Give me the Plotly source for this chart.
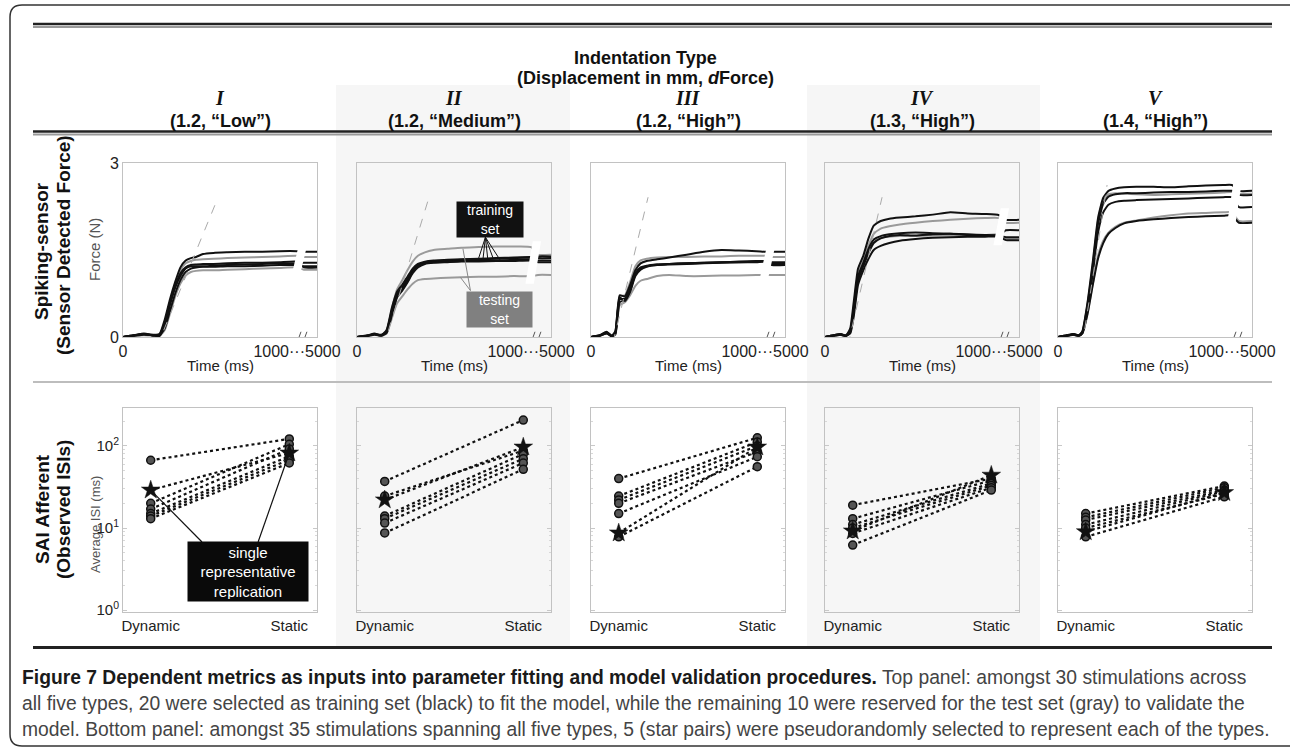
import plotly.graph_objects as go

W, H = 1290, 752

# ---------------- header / labels ----------------
NUMERALS = ["I", "II", "III", "IV", "V"]
PARAMS = ["(1.2, “Low”)", "(1.2, “Medium”)", "(1.2, “High”)", "(1.3, “High”)", "(1.4, “High”)"]
X_TICKVALS_TOP = [0, 1000]
X_TICKTEXT_TOP = ["0", "1000···5000"]
Y_TICKVALS_TOP = [0, 3]
Y_TICKTEXT_TOP = ["0", "3"]
X_TICKTEXT_BOT = ["Dynamic", "Static"]
Y_TICKVALS_BOT = [1, 10, 100]
Y_TICKTEXT_BOT = ["10<sup>0</sup>", "10<sup>1</sup>", "10<sup>2</sup>"]

# ---------------- top panels: force traces (N) ----------------
# time in ms; the last two entries lie after the axis break (the ~5000 ms segment)
T_I = [0, 60, 120, 180, 210, 240, 270, 300, 330, 360, 390, 420, 460, 520, 600, 700, 800, 900, 1000, 1040, 1115]
I_black_1 = [0, 0.03, 0.05, 0.03, 0.05, 0.30, 0.65, 0.95, 1.20, 1.32, 1.36, 1.38, 1.43, 1.45, 1.46, 1.47, 1.47, 1.48, 1.48, 1.47, 1.47]
I_black_2 = [0, 0.02, 0.06, 0.02, 0.02, 0.20, 0.55, 0.85, 1.05, 1.18, 1.22, 1.22, 1.22, 1.23, 1.24, 1.25, 1.26, 1.27, 1.27, 1.28, 1.28]
I_black_3 = [0, 0.02, 0.04, 0.03, 0.03, 0.15, 0.45, 0.75, 0.98, 1.12, 1.18, 1.20, 1.21, 1.21, 1.22, 1.22, 1.23, 1.24, 1.24, 1.22, 1.22]
I_black_4 = [0, 0.03, 0.05, 0.04, 0.04, 0.25, 0.60, 0.88, 1.10, 1.20, 1.24, 1.25, 1.26, 1.26, 1.27, 1.28, 1.28, 1.29, 1.30, 1.20, 1.20]
I_gray_1 = [0, 0.02, 0.04, 0.03, 0.05, 0.25, 0.60, 0.92, 1.15, 1.27, 1.31, 1.33, 1.34, 1.35, 1.36, 1.37, 1.38, 1.39, 1.40, 1.38, 1.38]
I_gray_2 = [0, 0.02, 0.03, 0.02, 0.02, 0.12, 0.40, 0.70, 0.92, 1.06, 1.12, 1.14, 1.15, 1.15, 1.16, 1.17, 1.18, 1.19, 1.20, 1.16, 1.16]

T_II = [0, 60, 100, 140, 170, 200, 230, 260, 290, 320, 350, 390, 440, 520, 600, 700, 800, 900, 1000, 1040, 1115]
II_black_1 = [0, 0.02, 0.06, 0.03, 0.10, 0.45, 0.74, 0.86, 1.00, 1.15, 1.24, 1.29, 1.31, 1.32, 1.33, 1.34, 1.35, 1.36, 1.37, 1.36, 1.36]
II_black_2 = [0, 0.03, 0.05, 0.04, 0.08, 0.40, 0.70, 0.82, 0.96, 1.12, 1.22, 1.27, 1.29, 1.30, 1.31, 1.32, 1.32, 1.33, 1.34, 1.32, 1.32]
II_black_3 = [0, 0.02, 0.04, 0.03, 0.12, 0.50, 0.78, 0.90, 1.04, 1.18, 1.26, 1.30, 1.32, 1.33, 1.34, 1.35, 1.36, 1.37, 1.38, 1.39, 1.39]
II_black_4 = [0, 0.02, 0.05, 0.02, 0.07, 0.38, 0.68, 0.80, 0.94, 1.10, 1.20, 1.26, 1.28, 1.29, 1.30, 1.30, 1.31, 1.31, 1.32, 1.29, 1.29]
II_gray_1 = [0, 0.02, 0.05, 0.03, 0.10, 0.48, 0.82, 0.98, 1.15, 1.30, 1.40, 1.46, 1.50, 1.52, 1.54, 1.55, 1.56, 1.56, 1.55, 1.42, 1.42]
II_gray_2 = [0, 0.02, 0.04, 0.02, 0.06, 0.32, 0.58, 0.70, 0.82, 0.92, 0.98, 1.00, 1.01, 1.02, 1.03, 1.04, 1.04, 1.05, 1.05, 1.07, 1.07]

T_III = [0, 50, 90, 120, 140, 165, 195, 225, 255, 285, 320, 380, 450, 550, 650, 750, 850, 950, 1000, 1040, 1115]
III_black_1 = [0, 0.03, 0.08, 0.02, 0.10, 0.72, 0.70, 0.90, 1.15, 1.27, 1.31, 1.34, 1.37, 1.42, 1.47, 1.50, 1.49, 1.48, 1.47, 1.47, 1.47]
III_black_2 = [0, 0.02, 0.07, 0.01, 0.06, 0.65, 0.66, 0.80, 1.08, 1.18, 1.22, 1.25, 1.26, 1.27, 1.28, 1.29, 1.30, 1.31, 1.31, 1.29, 1.29]
III_black_3 = [0, 0.03, 0.09, 0.02, 0.08, 0.68, 0.62, 0.78, 1.05, 1.16, 1.21, 1.24, 1.25, 1.26, 1.27, 1.28, 1.29, 1.29, 1.30, 1.26, 1.26]
III_black_4 = [0, 0.02, 0.06, 0.01, 0.05, 0.60, 0.64, 0.84, 1.10, 1.20, 1.23, 1.25, 1.26, 1.27, 1.28, 1.29, 1.29, 1.30, 1.30, 1.24, 1.24]
III_gray_1 = [0, 0.02, 0.07, 0.02, 0.09, 0.70, 0.72, 0.95, 1.22, 1.32, 1.35, 1.37, 1.38, 1.38, 1.39, 1.39, 1.40, 1.40, 1.40, 1.38, 1.38]
III_gray_2 = [0, 0.02, 0.06, 0.01, 0.04, 0.55, 0.60, 0.72, 0.88, 0.97, 1.00, 1.05, 1.07, 1.05, 1.05, 1.06, 1.06, 1.07, 1.07, 1.07, 1.07]

T_IV = [0, 50, 90, 120, 145, 165, 190, 220, 250, 280, 320, 370, 430, 520, 620, 720, 820, 920, 1000, 1040, 1115]
IV_black_1 = [0, 0.03, 0.04, 0.02, 0.15, 0.60, 1.18, 1.40, 1.70, 1.92, 2.00, 2.04, 2.06, 2.08, 2.11, 2.15, 2.13, 2.12, 2.10, 2.02, 2.02]
IV_black_2 = [0, 0.03, 0.05, 0.03, 0.10, 0.48, 1.05, 1.28, 1.52, 1.68, 1.74, 1.77, 1.79, 1.80, 1.79, 1.78, 1.77, 1.76, 1.76, 1.84, 1.84]
IV_black_3 = [0, 0.02, 0.04, 0.02, 0.08, 0.42, 0.98, 1.22, 1.45, 1.62, 1.70, 1.74, 1.76, 1.75, 1.77, 1.78, 1.76, 1.75, 1.75, 1.72, 1.72]
IV_black_4 = [0, 0.03, 0.05, 0.02, 0.06, 0.35, 0.90, 1.15, 1.35, 1.50, 1.57, 1.62, 1.66, 1.69, 1.71, 1.72, 1.73, 1.73, 1.73, 1.67, 1.67]
IV_gray_1 = [0, 0.02, 0.04, 0.02, 0.12, 0.52, 1.10, 1.32, 1.58, 1.78, 1.87, 1.91, 1.94, 1.97, 2.00, 2.02, 2.04, 2.05, 2.05, 1.97, 1.97]
IV_gray_2 = [0, 0.02, 0.04, 0.02, 0.09, 0.45, 1.00, 1.25, 1.48, 1.64, 1.71, 1.73, 1.74, 1.74, 1.75, 1.75, 1.76, 1.76, 1.77, 1.70, 1.70]

T_V = [0, 50, 90, 120, 140, 170, 200, 230, 260, 290, 330, 380, 450, 550, 650, 750, 850, 950, 1000, 1040, 1115]
V_black_1 = [0, 0.03, 0.05, 0.03, 0.10, 0.60, 1.30, 2.05, 2.40, 2.52, 2.56, 2.58, 2.59, 2.59, 2.58, 2.60, 2.61, 2.62, 2.62, 2.52, 2.52]
V_black_2 = [0, 0.02, 0.05, 0.03, 0.08, 0.55, 1.20, 1.95, 2.30, 2.42, 2.46, 2.48, 2.48, 2.49, 2.50, 2.50, 2.51, 2.52, 2.52, 2.45, 2.45]
V_black_3 = [0, 0.03, 0.04, 0.02, 0.07, 0.50, 1.10, 1.80, 2.15, 2.28, 2.33, 2.35, 2.36, 2.37, 2.38, 2.39, 2.40, 2.41, 2.41, 2.24, 2.24]
V_black_4 = [0, 0.02, 0.04, 0.02, 0.06, 0.40, 0.90, 1.35, 1.62, 1.78, 1.88, 1.96, 2.00, 2.03, 2.05, 2.07, 2.08, 2.09, 2.10, 1.97, 1.97]
V_gray_1 = [0, 0.02, 0.05, 0.03, 0.09, 0.58, 1.25, 2.00, 2.35, 2.46, 2.48, 2.47, 2.46, 2.45, 2.46, 2.47, 2.48, 2.49, 2.50, 2.47, 2.47]
V_gray_2 = [0, 0.02, 0.04, 0.02, 0.06, 0.42, 0.92, 1.40, 1.66, 1.80, 1.90, 1.97, 2.01, 2.06, 2.10, 2.13, 2.14, 2.15, 2.15, 2.00, 2.00]

# dForce reference (dashed) lines: start/end (ms, N)
SLOPE_T0 = [195, 150, 126, 132, 138]
SLOPE_F0 = [-0.17, -0.19, -0.10, -0.14, -0.17]
SLOPE_T1 = [540, 414, 328, 328, 282]
SLOPE_F1 = [2.36, 2.41, 2.41, 2.41, 2.62]
# axis break band (force span it cuts through)
BREAK_LO = [1.05, 0.92, 0.98, 1.58, 1.88]
BREAK_HI = [1.58, 1.65, 1.56, 2.22, 2.70]

# ---------------- bottom panels: average ISI (ms) ----------------
# first pair of each type = single representative replication (star)
DYN_I = [29, 67, 20, 17, 15, 14, 13]
STAT_I = [82, 122, 105, 92, 75, 68, 62]
DYN_II = [22, 37, 24.5, 14, 13, 11.5, 8.7]
STAT_II = [97, 207, 88, 80, 70, 62, 52]
DYN_III = [8.7, 40, 24.5, 22, 20, 15, 7.8]
STAT_III = [97, 126, 112, 100, 85, 74, 56]
DYN_IV = [9.2, 19, 13, 11, 10, 8.6, 6.2]
STAT_IV = [44, 40, 38, 35, 33, 31, 29]
DYN_V = [9.0, 15, 13.5, 12.5, 11, 10, 7.8]
STAT_V = [27, 32.5, 31, 29, 28, 26, 24]

# ---------------- assemble ----------------
TOP = [
    (T_I, [I_gray_1, I_gray_2], [I_black_1, I_black_2, I_black_3, I_black_4]),
    (T_II, [II_gray_1, II_gray_2], [II_black_1, II_black_2, II_black_3, II_black_4]),
    (T_III, [III_gray_1, III_gray_2], [III_black_1, III_black_2, III_black_3, III_black_4]),
    (T_IV, [IV_gray_1, IV_gray_2], [IV_black_1, IV_black_2, IV_black_3, IV_black_4]),
    (T_V, [V_gray_1, V_gray_2], [V_black_1, V_black_2, V_black_3, V_black_4]),
]
BOTTOM = [(DYN_I, STAT_I), (DYN_II, STAT_II), (DYN_III, STAT_III), (DYN_IV, STAT_IV), (DYN_V, STAT_V)]


def px(x):
    return x / W


def py(y):
    return 1 - y / H


FONT = "Liberation Sans, Arial, sans-serif"
PANEL_LEFT = [123, 357, 591, 825, 1058]
PANEL_W = 194
TOP_Y = (337, 163)
BOT_Y = (612, 408)

fig = go.Figure()
layout = dict(
    template="none",
    width=W, height=H, margin=dict(l=0, r=0, t=0, b=0, pad=0, autoexpand=False), autosize=False,
    paper_bgcolor="white", plot_bgcolor="rgba(0,0,0,0)", showlegend=False,
    font=dict(family=FONT, color="#222"),
)
shapes = []
annotations = []


def text(x, y, s, size, color="#111", family=None, angle=0, xanchor="center", yanchor="middle"):
    f = dict(size=size, color=color)
    if family:
        f["family"] = family
    annotations.append(dict(x=px(x), y=py(y), xref="paper", yref="paper", showarrow=False, text=s,
                            textangle=angle, xanchor=xanchor, yanchor=yanchor, font=f))


# shaded columns for types II and IV
for x0, x1 in [(336, 570), (807, 1040)]:
    shapes.append(dict(type="rect", xref="paper", yref="paper", x0=px(x0), x1=px(x1), y0=py(647), y1=py(85),
                       fillcolor="#f6f6f6", line=dict(width=0), layer="below"))

for k in range(5):
    L = PANEL_LEFT[k]
    dom_x = [px(L), px(L + PANEL_W)]
    ti = k + 1
    bi = k + 6
    # --- top axes
    layout[f"xaxis{ti}"] = dict(domain=dom_x, anchor=f"y{ti}", range=[0, 1115], showgrid=False, zeroline=False,
                               showline=True, mirror=True, linecolor="#c2c2c2", linewidth=1, ticks="",
                               automargin=False, tickmode="array", tickvals=X_TICKVALS_TOP,
                               ticktext=X_TICKTEXT_TOP, tickfont=dict(size=16, color="#222"))
    layout[f"yaxis{ti}"] = dict(domain=[py(TOP_Y[0]), py(TOP_Y[1])], anchor=f"x{ti}", range=[0, 3], showgrid=False,
                               zeroline=False, showline=True, mirror=True, linecolor="#c2c2c2", linewidth=1, ticks="",
                               automargin=False, tickmode="array", tickvals=Y_TICKVALS_TOP,
                               ticktext=Y_TICKTEXT_TOP, showticklabels=(k == 0),
                               tickfont=dict(size=16, color="#222"))
    # --- bottom axes
    layout[f"xaxis{bi}"] = dict(domain=dom_x, anchor=f"y{bi}", range=[-0.2, 1.2], showgrid=False, zeroline=False,
                               showline=True, mirror=True, linecolor="#c2c2c2", linewidth=1, ticks="",
                               automargin=False, tickmode="array", tickvals=[0, 1], ticktext=X_TICKTEXT_BOT,
                               tickfont=dict(size=15, color="#222"))
    layout[f"yaxis{bi}"] = dict(domain=[py(BOT_Y[0]), py(BOT_Y[1])], anchor=f"x{bi}", type="log",
                               range=[-0.024, 2.463], showgrid=False, zeroline=False, showline=True,
                               mirror="allticks", linecolor="#c2c2c2", linewidth=1, ticks="inside", ticklen=4,
                               tickcolor="#c8c8c8", automargin=False, tickmode="array", tickvals=Y_TICKVALS_BOT,
                               ticktext=Y_TICKTEXT_BOT, showticklabels=(k == 0),
                               tickfont=dict(size=15, color="#222"),
                               minor=dict(ticks="inside", ticklen=2, tickcolor="#d8d8d8", showgrid=False,
                                          tickvals=[2, 3, 4, 5, 6, 7, 8, 9, 20, 30, 40, 50, 60, 70, 80, 90, 200]))

    # --- force curves
    T, grays, blacks = TOP[k]
    for arr in grays:
        fig.add_trace(go.Scatter(x=T, y=arr, mode="lines", line=dict(color="#9a9a9a", width=2, shape="spline",
                                 smoothing=0.5), xaxis=f"x{ti}", yaxis=f"y{ti}", hoverinfo="skip"))
    for arr in blacks:
        fig.add_trace(go.Scatter(x=T, y=arr, mode="lines", line=dict(color="#111", width=2, shape="spline",
                                 smoothing=0.5), xaxis=f"x{ti}", yaxis=f"y{ti}", hoverinfo="skip"))
    # dashed dForce line
    shapes.append(dict(type="line", xref=f"x{ti}", yref=f"y{ti}", x0=SLOPE_T0[k], y0=SLOPE_F0[k],
                       x1=SLOPE_T1[k], y1=SLOPE_F1[k], line=dict(color="#aaaaaa", width=1, dash="dash")))
    # axis break band
    lo, hi = BREAK_LO[k], BREAK_HI[k]
    shapes.append(dict(type="path", xref=f"x{ti}", yref=f"y{ti}",
                       path=f"M 968,{lo} L 1016,{lo} L 1058,{hi} L 1010,{hi} Z",
                       fillcolor="white", line=dict(width=0), layer="above"))
    for tb in (1000, 1034):
        shapes.append(dict(type="line", xref=f"x{ti}", yref=f"y{ti}", x0=tb, y0=-0.1, x1=tb + 23, y1=0.09,
                           line=dict(color="#555", width=1)))
    # titles of the columns
    cx = L + PANEL_W / 2
    text(cx, 98, f"<b><i>{NUMERALS[k]}</i></b>", 20, family="Liberation Serif, Times New Roman, serif")
    text(cx, 121, f"<b>{PARAMS[k]}</b>", 18)
    text(cx, 365, "Time (ms)", 15, color="#222")

    # --- ISI pairs
    dyn, stat = BOTTOM[k]
    for j in range(1, len(dyn)):
        fig.add_trace(go.Scatter(x=[0, 1], y=[dyn[j], stat[j]], mode="lines+markers",
                                 line=dict(color="#111", width=2.2, dash="dot"),
                                 marker=dict(symbol="circle", size=8, color="#555", line=dict(color="#111", width=1.5)),
                                 xaxis=f"x{bi}", yaxis=f"y{bi}", hoverinfo="skip", cliponaxis=False))
    fig.add_trace(go.Scatter(x=[0, 1], y=[dyn[0], stat[0]], mode="lines+markers",
                             line=dict(color="#111", width=2.2, dash="dot"),
                             marker=dict(symbol="star", size=14, color="#111", line=dict(color="#111", width=0.5)),
                             xaxis=f"x{bi}", yaxis=f"y{bi}", hoverinfo="skip", cliponaxis=False))

# --- call-outs: training / testing set (type II, top)
TRAIN_ORIGIN = (738, 1.72)
TRAIN_TIPS_T = [695, 724, 752, 782, 822]
TRAIN_TIPS_F = [1.32, 1.34, 1.33, 1.36, 1.33]
xs, ys = [], []
for t, f in zip(TRAIN_TIPS_T, TRAIN_TIPS_F):
    xs += [TRAIN_ORIGIN[0], t, None]
    ys += [TRAIN_ORIGIN[1], f, None]
fig.add_trace(go.Scatter(x=xs, y=ys, mode="lines", line=dict(color="#111", width=1), xaxis="x2", yaxis="y2",
                         hoverinfo="skip"))
TEST_ORIGIN = (652, 0.80)
TEST_TIPS_T = [609, 594]
TEST_TIPS_F = [1.52, 1.03]
xs, ys = [], []
for t, f in zip(TEST_TIPS_T, TEST_TIPS_F):
    xs += [TEST_ORIGIN[0], t, None]
    ys += [TEST_ORIGIN[1], f, None]
fig.add_trace(go.Scatter(x=xs, y=ys, mode="lines", line=dict(color="#888", width=1), xaxis="x2", yaxis="y2",
                         hoverinfo="skip"))
annotations.append(dict(x=0.686, y=0.675, xref="x2 domain", yref="y2 domain", showarrow=False,
                        xanchor="center", yanchor="middle",
                        text="training<br>set", bgcolor="#111", width=62, height=31, borderpad=2,
                        font=dict(size=14, color="white")))
annotations.append(dict(x=0.735, y=0.158, xref="x2 domain", yref="y2 domain", showarrow=False,
                        xanchor="center", yanchor="middle",
                        text="testing<br>set", bgcolor="#808080", width=61, height=31, borderpad=2,
                        font=dict(size=14, color="white")))

# --- call-out: single representative replication (type I, bottom)
REP_ORIGIN_X = [0.37, 0.775]
REP_ORIGIN_Y = 6.75
fig.add_trace(go.Scatter(x=[REP_ORIGIN_X[0], 0, None, REP_ORIGIN_X[1], 1],
                         y=[REP_ORIGIN_Y, DYN_I[0], None, REP_ORIGIN_Y, STAT_I[0]],
                         mode="lines", line=dict(color="#111", width=1.2), xaxis="x6", yaxis="y6",
                         hoverinfo="skip"))
annotations.append(dict(x=0.644, y=0.199, xref="x6 domain", yref="y6 domain", showarrow=False,
                        xanchor="center", yanchor="middle",
                        text="single<br>representative<br>replication", bgcolor="#0a0a0a", width=116, height=55,
                        borderpad=2, font=dict(size=15, color="white")))

# --- header texts
text(645, 58, "<b>Indentation Type</b>", 18)
text(645, 78, "<b>(Displacement in mm, <i>d</i>Force)</b>", 18)
# row labels
text(42, 251, "<b>Spiking-sensor</b>", 19, angle=-90)
text(63, 245, "<b>(Sensor Detected Force)</b>", 19, angle=-90)
text(42, 509, "<b>SAI Afferent</b>", 19, angle=-90)
text(63, 510, "<b>(Observed ISIs)</b>", 19, angle=-90)
text(95, 250, "Force (N)", 15, color="#555", angle=-90)
text(95, 525, "Average ISI (ms)", 13, color="#555", angle=-90)

# --- rules
for y, col, wdt in [(24, "#222", 2.5), (27, "#999", 2), (131.5, "#222", 2.5), (134.5, "#999", 2),
                    (382, "#bdbdbd", 2), (647.5, "#222", 3)]:
    shapes.append(dict(type="line", xref="paper", yref="paper", x0=px(33), x1=px(1272), y0=py(y), y1=py(y),
                       line=dict(color=col, width=wdt)))

# rounded outer frame
x0, x1, y0, y1, r = 10, 1310, 5, 746, 12
shapes.append(dict(type="path", xref="paper", yref="paper",
                   path=(f"M {px(x0 + r)},{py(y0)} L {px(x1 - r)},{py(y0)} "
                         f"Q {px(x1)},{py(y0)} {px(x1)},{py(y0 + r)} L {px(x1)},{py(y1 - r)} "
                         f"Q {px(x1)},{py(y1)} {px(x1 - r)},{py(y1)} L {px(x0 + r)},{py(y1)} "
                         f"Q {px(x0)},{py(y1)} {px(x0)},{py(y1 - r)} L {px(x0)},{py(y0 + r)} "
                         f"Q {px(x0)},{py(y0)} {px(x0 + r)},{py(y0)} Z"),
                   line=dict(color="#333", width=1.5)))

# --- caption
CAPTION = [
    "<b><span style='color:#1a1a1a'>Figure 7 Dependent metrics as inputs into parameter fitting and model validation procedures.</span></b> Top panel: amongst 30 stimulations across",
    "all five types, 20 were selected as training set (black) to fit the model, while the remaining 10 were reserved for the test set (gray) to validate the",
    "model. Bottom panel: amongst 35 stimulations spanning all five types, 5 (star pairs) were pseudorandomly selected to represent each of the types.",
]
for i, line in enumerate(CAPTION):
    text(20, 677 + 26 * i, line, 19.3, color="#444", family="Liberation Sans, Arial, sans-serif", xanchor="left")

layout["shapes"] = shapes
layout["annotations"] = annotations
fig.update_layout(**layout)
fig.write_html("out.html", config={"displayModeBar": False},
               post_script="document.body.style.margin='0px';document.body.style.overflow='hidden';")
